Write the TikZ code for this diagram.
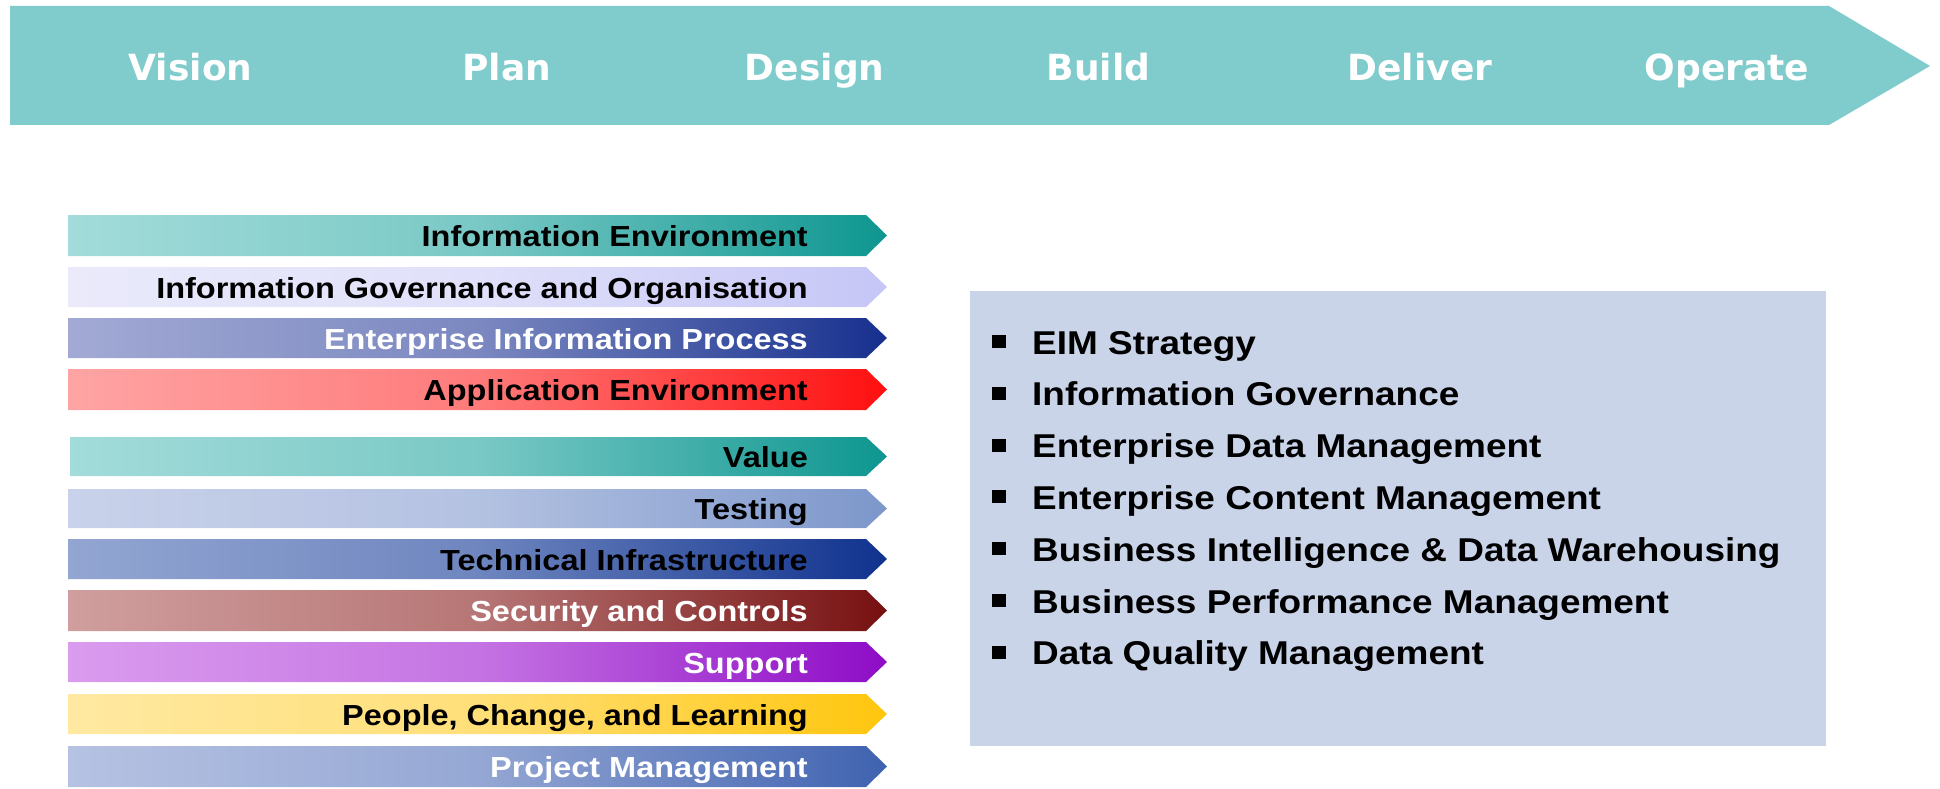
\documentclass[tikz,border=0pt]{standalone}
\usepackage{fontspec}
\setmainfont{Liberation Sans}
\newfontfamily\widefont[FakeStretch=1.12]{Liberation Sans}
\newfontfamily\banfont{DejaVu Sans}
\definecolor{banner}{HTML}{80CBCC}
\definecolor{boxbg}{HTML}{CAD4E9}
\definecolor{tealL}{HTML}{A3DCDA}\definecolor{tealR}{HTML}{0E9690}
\definecolor{govL}{HTML}{EAEAFB}\definecolor{govR}{HTML}{C6C6F7}
\definecolor{procL}{HTML}{A2AAD4}\definecolor{procR}{HTML}{17308E}
\definecolor{appL}{HTML}{FFA4A4}\definecolor{appR}{HTML}{FF0F0F}
\definecolor{testL}{HTML}{C9D2EA}\definecolor{testR}{HTML}{7D97CB}
\definecolor{techL}{HTML}{93A6D2}\definecolor{techR}{HTML}{10328E}
\definecolor{secL}{HTML}{D09E9E}\definecolor{secR}{HTML}{771010}
\definecolor{supL}{HTML}{DA9CEE}\definecolor{supR}{HTML}{8E0CC6}
\definecolor{pplL}{HTML}{FFE9A2}\definecolor{pplR}{HTML}{FFC60E}
\definecolor{pmL}{HTML}{B6C2E2}\definecolor{pmR}{HTML}{3F62B0}
\newcommand\eimbar[5]{%
  \shade[left color=#4,right color=#5,middle color=#4!72!#5] (#3,#1) -- (866,#1) -- (887,{(#1+#2)/2}) -- (866,#2) -- (#3,#2) -- cycle;}
\begin{document}
\begin{tikzpicture}[x=1pt,y=-1pt,
  bantext/.style={text=white,font=\banfont\bfseries\fontsize{36}{40}\selectfont,anchor=base,inner sep=0pt},
  bartext/.style={font=\widefont\bfseries\fontsize{29}{32}\selectfont,anchor=base east,inner sep=0pt},
  bultext/.style={font=\widefont\bfseries\fontsize{33}{38}\selectfont,anchor=base west,inner sep=0pt},
  bulletbox/.style={fill=black,minimum width=13.5pt,minimum height=13pt,inner sep=0pt}]
\useasboundingbox (0,0) rectangle (1940,789);
% banner
\fill[banner] (10,6) -- (1829,6) -- (1930,66) -- (1829,125) -- (10,125) -- cycle;
\node[bantext] (vision) at (190.5,81) {Vision};
\node[bantext] (plan) at (506.6,81) {Plan};
\node[bantext] (design) at (814.7,81) {Design};
\node[bantext] (build) at (1098.6,81) {Build};
\node[bantext] (deliver) at (1420,81) {Deliver};
\node[bantext] (operate) at (1727,81) {Operate};
% bars
\eimbar{215}{256}{68}{tealL}{tealR}
\eimbar{267}{307}{68}{govL}{govR}
\eimbar{318}{358}{68}{procL}{procR}
\eimbar{369}{410}{68}{appL}{appR}
\eimbar{437}{476}{70}{tealL}{tealR}
\eimbar{489}{528}{68}{testL}{testR}
\eimbar{539}{579}{68}{techL}{techR}
\eimbar{590}{631}{68}{secL}{secR}
\eimbar{642}{682}{68}{supL}{supR}
\eimbar{694}{734}{68}{pplL}{pplR}
\eimbar{746}{787}{68}{pmL}{pmR}
\node[bartext,text=black] (ie) at (808,246.5) {Information Environment};
\node[bartext,text=black] (igo) at (808,298) {Information Governance and Organisation};
\node[bartext,text=white] (eip) at (808,349) {Enterprise Information Process};
\node[bartext,text=black] (ae) at (808,400.5) {Application Environment};
\node[bartext,text=black] (val) at (808,467.5) {Value};
\node[bartext,text=black] (tst) at (808,519.5) {Testing};
\node[bartext,text=black] (ti) at (808,570) {Technical Infrastructure};
\node[bartext,text=white] (sc) at (808,621.5) {Security and Controls};
\node[bartext,text=white] (sup) at (808,673) {Support};
\node[bartext,text=black] (pcl) at (808,725) {People, Change, and Learning};
\node[bartext,text=white] (pm) at (808,777.5) {Project Management};
% right box
\fill[boxbg] (970,291) rectangle (1826,746);
\foreach \i/\t [count=\k] in {0/EIM Strategy,1/Information Governance,2/Enterprise Data Management,3/Enterprise Content Management,4/Business Intelligence \& Data Warehousing,5/Business Performance Management,6/Data Quality Management}{
  \node[bulletbox] (bul\k) at (999,{341.5+51.8*\i}) {};
  \node[bultext] (item\k) at (1032,{354+51.8*\i}) {\t};
}
\end{tikzpicture}
\end{document}
